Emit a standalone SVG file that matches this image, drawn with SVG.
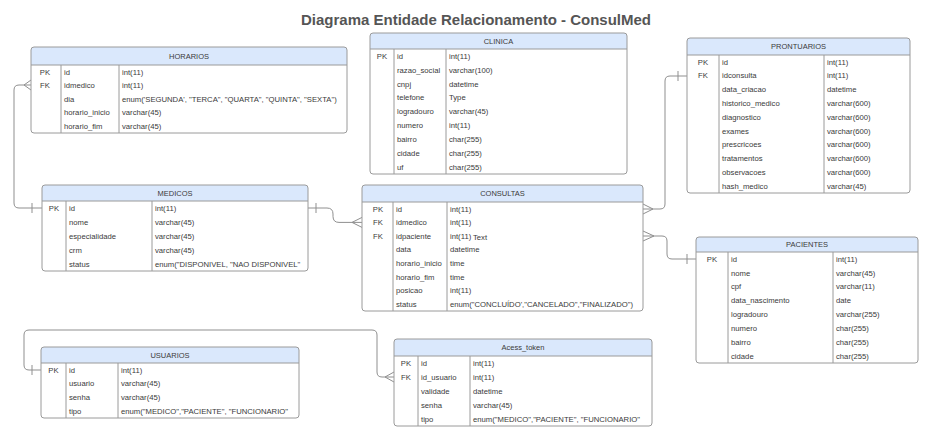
<svg xmlns="http://www.w3.org/2000/svg" width="938" height="440" viewBox="0 0 938 440">
<style>
.bg{fill:#ffffff}
.box{fill:#ffffff;stroke:none}
.out{fill:none;stroke:#9a9a9a;stroke-width:1}
.hdr{fill:#dae8fc;stroke:none}
.ln{stroke:#9a9a9a;stroke-width:1;fill:none}
.c{stroke:#8f8f8f;stroke-width:1;fill:none}
text{font-family:"Liberation Sans",Arial,sans-serif;font-size:7.7px;fill:#3a3a3a}
.h{font-size:7.5px;text-anchor:middle}
.k{text-anchor:middle}
.title{font-size:15px;font-weight:bold;fill:#555555;text-anchor:middle}
</style>
<rect class="bg" x="0" y="0" width="938" height="440"/>
<text class="title" x="476" y="25">Diagrama Entidade Relacionamento - ConsulMed</text>

<g id="connectors">
  <!-- HORARIOS.idmedico -> MEDICOS.id -->
  <path class="c" d="M31,85 H19 Q14,85 14,90 V203 Q14,208 19,208 H42"/>
  <path class="c" d="M31,80 L24,85 L31,90"/>
  <path class="c" d="M32,203 V213"/>
  <!-- MEDICOS.id -> CONSULTAS.idmedico -->
  <path class="c" d="M308,208 H327 Q333,208 333,214 V216.4 Q333,222.4 339,222.4 H362"/>
  <path class="c" d="M316,203 V213"/>
  <path class="c" d="M362,217.4 L352,222.4 L362,227.4"/>
  <!-- CONSULTAS.id -> PRONTUARIOS.idconsulta -->
  <path class="c" d="M643,209 H660 Q665,209 665,204 V81 Q665,76 670,76 H687"/>
  <path class="c" d="M643,204 L653,209 L643,214"/>
  <path class="c" d="M678,71 V81"/>
  <!-- CONSULTAS.idpaciente -> PACIENTES.id -->
  <path class="c" d="M643,236 H662 Q667,236 667,241 V254 Q667,259 672,259 H696"/>
  <path class="c" d="M643,231 L654,236 L643,241"/>
  <path class="c" d="M687,254 V264"/>
  <!-- USUARIOS.id -> Acess_token.id_usuario -->
  <path class="c" d="M41,370 H29 Q24,370 24,365 V335 Q24,330 29,330 H372 Q377,330 377,335 V372 Q377,377 382,377 H394"/>
  <path class="c" d="M32,365 V375"/>
  <path class="c" d="M394,372 L385,377 L394,382"/>
</g>

<g id="HORARIOS">
  <rect class="box" x="31" y="47" width="316" height="86" rx="3"/>
  <path class="hdr" d="M31,65 V50 Q31,47 34,47 H344 Q347,47 347,50 V65 Z"/>
  <path class="ln" d="M31,65 H347 M61,65 V133 M119,65 V133"/>
  <rect class="out" x="31" y="47" width="316" height="86" rx="3"/>
  <text class="h" x="189" y="58.7">HORARIOS</text>
  <text class="k" x="45" y="74.5">PK</text>
  <text class="k" x="45" y="88.1">FK</text>
  <text x="64" y="74.5">id</text>
  <text x="64" y="88.1">idmedico</text>
  <text x="64" y="101.7">dia</text>
  <text x="64" y="115.3">horario_inicio</text>
  <text x="64" y="128.9">horario_fim</text>
  <text x="122" y="74.5">int(11)</text>
  <text x="122" y="88.1">int(11)</text>
  <text x="122" y="101.7">enum('SEGUNDA', "TERCA", "QUARTA", "QUINTA", "SEXTA")</text>
  <text x="122" y="115.3">varchar(45)</text>
  <text x="122" y="128.9">varchar(45)</text>
</g>

<g id="CLINICA">
  <rect class="box" x="370" y="33" width="257" height="141" rx="3"/>
  <path class="hdr" d="M370,49 V36 Q370,33 373,33 H624 Q627,33 627,36 V49 Z"/>
  <path class="ln" d="M370,49 H627 M394,49 V174 M446,49 V174"/>
  <rect class="out" x="370" y="33" width="257" height="141" rx="3"/>
  <text class="h" x="498.5" y="43.7">CLINICA</text>
  <text class="k" x="382" y="58.7">PK</text>
  <text x="397" y="58.7">id</text>
  <text x="397" y="72.6">razao_social</text>
  <text x="397" y="86.5">cnpj</text>
  <text x="397" y="100.4">telefone</text>
  <text x="397" y="114.3">logradouro</text>
  <text x="397" y="128.2">numero</text>
  <text x="397" y="142.1">bairro</text>
  <text x="397" y="156">cidade</text>
  <text x="397" y="169.9">uf</text>
  <text x="449" y="58.7">int(11)</text>
  <text x="449" y="72.6">varchar(100)</text>
  <text x="449" y="86.5">datetime</text>
  <text x="449" y="100.4">Type</text>
  <text x="449" y="114.3">varchar(45)</text>
  <text x="449" y="128.2">int(11)</text>
  <text x="449" y="142.1">char(255)</text>
  <text x="449" y="156">char(255)</text>
  <text x="449" y="169.9">char(255)</text>
</g>

<g id="PRONTUARIOS">
  <rect class="box" x="687" y="38" width="223" height="155" rx="3"/>
  <path class="hdr" d="M687,55 V41 Q687,38 690,38 H907 Q910,38 910,41 V55 Z"/>
  <path class="ln" d="M687,55 H910 M719,55 V193 M824,55 V193"/>
  <rect class="out" x="687" y="38" width="223" height="155" rx="3"/>
  <text class="h" x="798.5" y="49.2">PRONTUARIOS</text>
  <text class="k" x="703" y="64.6">PK</text>
  <text class="k" x="703" y="78.4">FK</text>
  <text x="722" y="64.6">id</text>
  <text x="722" y="78.4">idconsulta</text>
  <text x="722" y="92.2">data_criacao</text>
  <text x="722" y="106">historico_medico</text>
  <text x="722" y="119.8">diagnostico</text>
  <text x="722" y="133.6">exames</text>
  <text x="722" y="147.4">prescricoes</text>
  <text x="722" y="161.2">tratamentos</text>
  <text x="722" y="175">observacoes</text>
  <text x="722" y="188.8">hash_medico</text>
  <text x="827" y="64.6">int(11)</text>
  <text x="827" y="78.4">int(11)</text>
  <text x="827" y="92.2">datetime</text>
  <text x="827" y="106">varchar(600)</text>
  <text x="827" y="119.8">varchar(600)</text>
  <text x="827" y="133.6">varchar(600)</text>
  <text x="827" y="147.4">varchar(600)</text>
  <text x="827" y="161.2">varchar(600)</text>
  <text x="827" y="175">varchar(600)</text>
  <text x="827" y="188.8">varchar(45)</text>
</g>

<g id="MEDICOS">
  <rect class="box" x="42" y="185" width="266" height="86" rx="3"/>
  <path class="hdr" d="M42,201 V188 Q42,185 45,185 H305 Q308,185 308,188 V201 Z"/>
  <path class="ln" d="M42,201 H308 M66,201 V271 M152,201 V271"/>
  <rect class="out" x="42" y="185" width="266" height="86" rx="3"/>
  <text class="h" x="175" y="195.7">MEDICOS</text>
  <text class="k" x="54" y="210.7">PK</text>
  <text x="69" y="210.7">id</text>
  <text x="69" y="224.7">nome</text>
  <text x="69" y="238.7">especialidade</text>
  <text x="69" y="252.7">crm</text>
  <text x="69" y="266.7">status</text>
  <text x="155" y="210.7">int(11)</text>
  <text x="155" y="224.7">varchar(45)</text>
  <text x="155" y="238.7">varchar(45)</text>
  <text x="155" y="252.7">varchar(45)</text>
  <text x="155" y="266.7">enum("DISPONIVEL, "NAO DISPONIVEL"</text>
</g>

<g id="CONSULTAS">
  <rect class="box" x="362" y="185" width="281" height="126" rx="3"/>
  <path class="hdr" d="M362,202 V188 Q362,185 365,185 H640 Q643,185 643,188 V202 Z"/>
  <path class="ln" d="M362,202 H643 M393,202 V311 M447,202 V311"/>
  <rect class="out" x="362" y="185" width="281" height="126" rx="3"/>
  <text class="h" x="502.5" y="196.2">CONSULTAS</text>
  <text class="k" x="378" y="211.5">PK</text>
  <text class="k" x="378" y="225.1">FK</text>
  <text class="k" x="378" y="238.7">FK</text>
  <text x="396" y="211.5">id</text>
  <text x="396" y="225.1">idmedico</text>
  <text x="396" y="238.7">idpaciente</text>
  <text x="396" y="252.3">data</text>
  <text x="396" y="265.9">horario_inicio</text>
  <text x="396" y="279.5">horario_fim</text>
  <text x="396" y="293.1">posicao</text>
  <text x="396" y="306.7">status</text>
  <text x="450" y="211.5">int(11)</text>
  <text x="450" y="225.1">int(11)</text>
  <text x="450" y="238.7">int(11)</text>
  <text x="473" y="239.5">Text</text>
  <text x="450" y="252.3">datetime</text>
  <text x="450" y="265.9">time</text>
  <text x="450" y="279.5">time</text>
  <text x="450" y="293.1">int(11)</text>
  <text x="450" y="306.7">enum("CONCLUÍDO',"CANCELADO","FINALIZADO")</text>
</g>

<g id="PACIENTES">
  <rect class="box" x="696" y="237" width="222" height="126" rx="3"/>
  <path class="hdr" d="M696,252 V240 Q696,237 699,237 H915 Q918,237 918,240 V252 Z"/>
  <path class="ln" d="M696,252 H918 M728,252 V363 M833,252 V363"/>
  <rect class="out" x="696" y="237" width="222" height="126" rx="3"/>
  <text class="h" x="807" y="247.2">PACIENTES</text>
  <text class="k" x="712" y="261.6">PK</text>
  <text x="731" y="261.6">id</text>
  <text x="731" y="275.5">nome</text>
  <text x="731" y="289.3">cpf</text>
  <text x="731" y="303.2">data_nascimento</text>
  <text x="731" y="317">logradouro</text>
  <text x="731" y="330.9">numero</text>
  <text x="731" y="344.7">bairro</text>
  <text x="731" y="358.6">cidade</text>
  <text x="836" y="261.6">int(11)</text>
  <text x="836" y="275.5">varchar(45)</text>
  <text x="836" y="289.3">varchar(11)</text>
  <text x="836" y="303.2">date</text>
  <text x="836" y="317">varchar(255)</text>
  <text x="836" y="330.9">char(255)</text>
  <text x="836" y="344.7">char(255)</text>
  <text x="836" y="358.6">char(255)</text>
</g>

<g id="USUARIOS">
  <rect class="box" x="41" y="347" width="258" height="71" rx="3"/>
  <path class="hdr" d="M41,363 V350 Q41,347 44,347 H296 Q299,347 299,350 V363 Z"/>
  <path class="ln" d="M41,363 H299 M66,363 V418 M118,363 V418"/>
  <rect class="out" x="41" y="347" width="258" height="71" rx="3"/>
  <text class="h" x="170" y="357.7">USUARIOS</text>
  <text class="k" x="53.5" y="372.6">PK</text>
  <text x="69" y="372.6">id</text>
  <text x="69" y="386.3">usuario</text>
  <text x="69" y="400.1">senha</text>
  <text x="69" y="413.8">tipo</text>
  <text x="121" y="372.6">int(11)</text>
  <text x="121" y="386.3">varchar(45)</text>
  <text x="121" y="400.1">varchar(45)</text>
  <text x="121" y="413.8">enum("MEDICO","PACIENTE", "FUNCIONARIO"</text>
</g>

<g id="Acess_token">
  <rect class="box" x="394" y="339" width="258" height="87" rx="3"/>
  <path class="hdr" d="M394,356 V342 Q394,339 397,339 H649 Q652,339 652,342 V356 Z"/>
  <path class="ln" d="M394,356 H652 M418,356 V426 M470,356 V426"/>
  <rect class="out" x="394" y="339" width="258" height="87" rx="3"/>
  <text class="h" x="523" y="350.2">Acess_token</text>
  <text class="k" x="406" y="365.7">PK</text>
  <text class="k" x="406" y="379.7">FK</text>
  <text x="421" y="365.7">id</text>
  <text x="421" y="379.7">id_usuario</text>
  <text x="421" y="393.7">validade</text>
  <text x="421" y="407.7">senha</text>
  <text x="421" y="421.7">tipo</text>
  <text x="473" y="365.7">int(11)</text>
  <text x="473" y="379.7">int(11)</text>
  <text x="473" y="393.7">datetime</text>
  <text x="473" y="407.7">varchar(45)</text>
  <text x="473" y="421.7">enum("MEDICO","PACIENTE", "FUNCIONARIO"</text>
</g>
</svg>
